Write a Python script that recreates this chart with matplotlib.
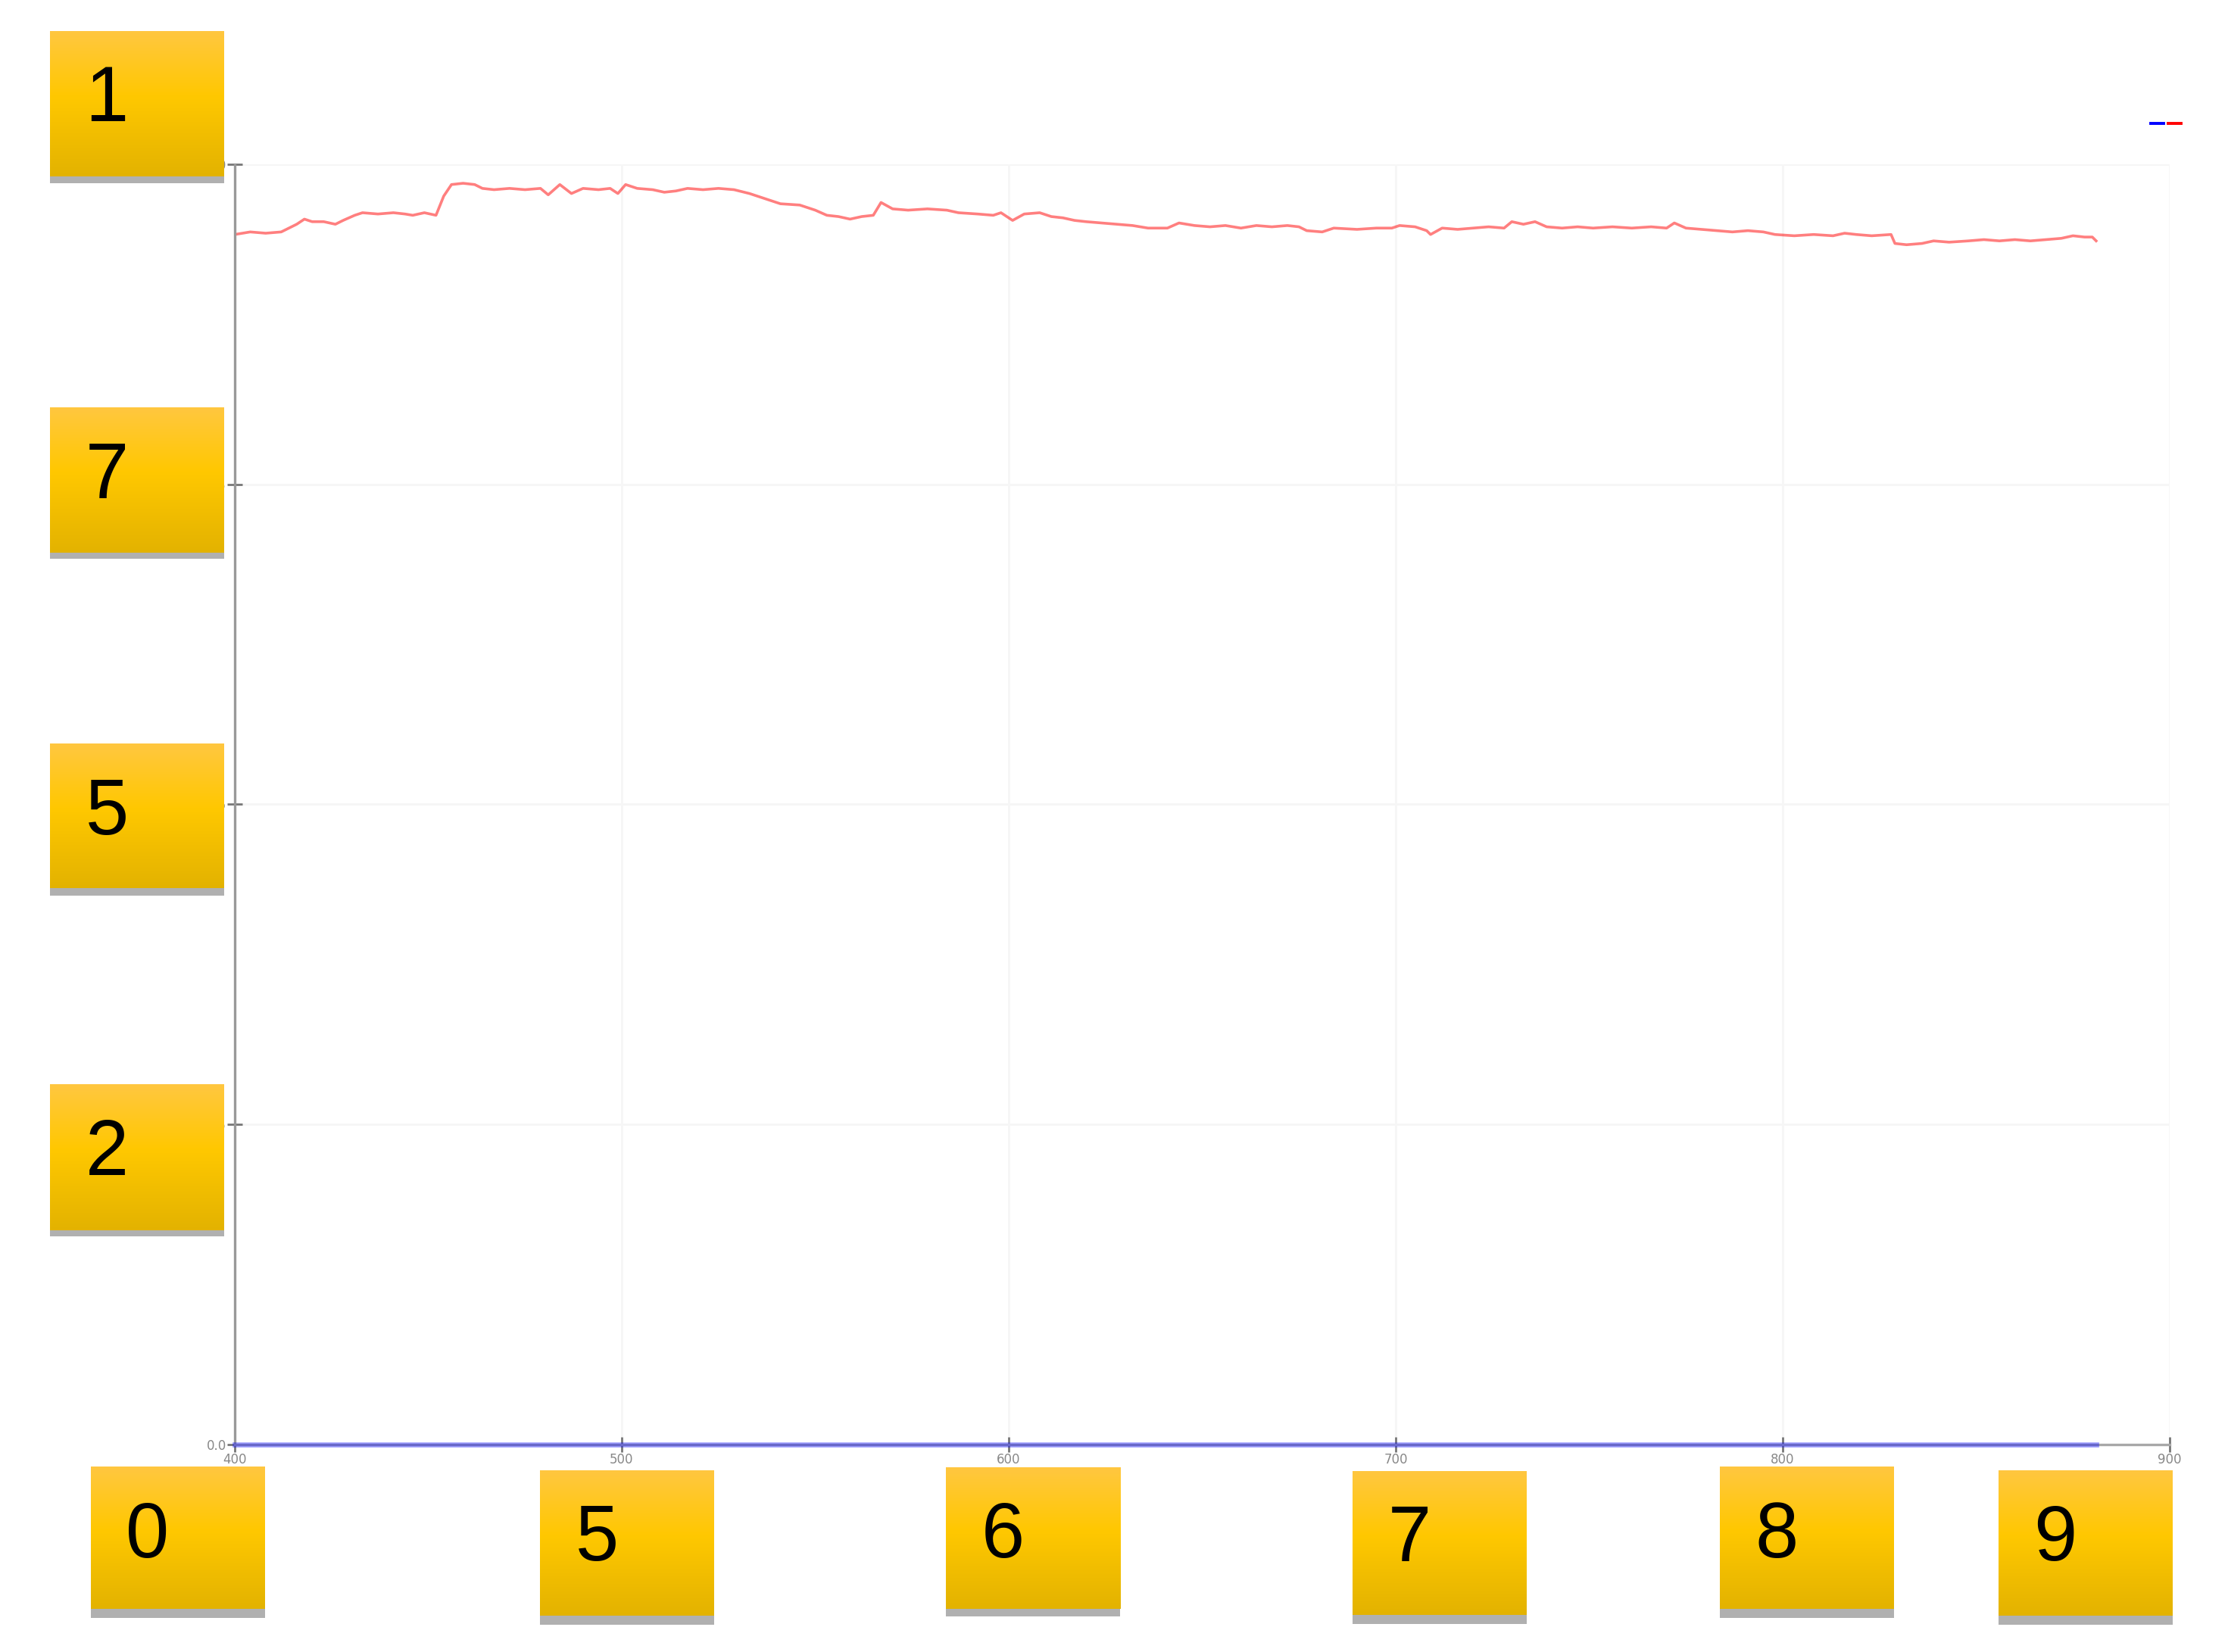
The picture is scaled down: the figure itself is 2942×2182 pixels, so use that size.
import numpy as np
import matplotlib.pyplot as plt
from matplotlib.patches import Rectangle

# --- data ---
wavelength = [400, 404, 408, 412, 414, 416, 418, 420, 423, 426, 428, 431, 433, 437, 441,
              444, 446, 449, 452, 454, 456, 459, 462, 464, 467, 471, 475, 479, 481, 484,
              487, 490, 494, 497, 499, 501, 504, 508, 511, 514, 517, 521, 525, 529, 533,
              537, 541, 546, 550, 553, 556, 559, 562, 565, 567, 570, 574, 579, 584, 587,
              592, 596, 598, 601, 604, 608, 611, 614, 617, 620, 624, 628, 632, 636, 641,
              644, 648, 652, 656, 660, 664, 668, 672, 675, 677, 681, 684, 690, 695, 699,
              701, 705, 708, 709, 712, 716, 720, 724, 728, 730, 733, 736, 739, 743, 747,
              751, 756, 761, 766, 770, 772, 775, 779, 783, 787, 791, 795, 798, 803, 808,
              813, 816, 819, 823, 828, 829, 832, 836, 839, 843, 848, 852, 856, 860, 864,
              868, 872, 875, 878, 880, 881]
red_values = [0.945, 0.947, 0.946, 0.947, 0.950, 0.953, 0.957, 0.955, 0.955, 0.953, 0.956, 0.960, 0.962, 0.961, 0.962,
              0.961, 0.960, 0.962, 0.960, 0.975, 0.984, 0.985, 0.984, 0.981, 0.980, 0.981, 0.980, 0.981, 0.976, 0.984,
              0.977, 0.981, 0.980, 0.981, 0.977, 0.984, 0.981, 0.980, 0.978, 0.979, 0.981, 0.980, 0.981, 0.980, 0.977,
              0.973, 0.969, 0.968, 0.964, 0.960, 0.959, 0.957, 0.959, 0.960, 0.970, 0.965, 0.964, 0.965, 0.964, 0.962,
              0.961, 0.960, 0.962, 0.956, 0.961, 0.962, 0.959, 0.958, 0.956, 0.955, 0.954, 0.953, 0.952, 0.950, 0.950,
              0.954, 0.952, 0.951, 0.952, 0.950, 0.952, 0.951, 0.952, 0.951, 0.948, 0.947, 0.950, 0.949, 0.950, 0.950,
              0.952, 0.951, 0.948, 0.945, 0.950, 0.949, 0.950, 0.951, 0.950, 0.955, 0.953, 0.955, 0.951, 0.950, 0.951,
              0.950, 0.951, 0.950, 0.951, 0.950, 0.954, 0.950, 0.949, 0.948, 0.947, 0.948, 0.947, 0.945, 0.944, 0.945,
              0.944, 0.946, 0.945, 0.944, 0.945, 0.938, 0.937, 0.938, 0.940, 0.939, 0.940, 0.941, 0.940, 0.941, 0.940,
              0.941, 0.942, 0.944, 0.943, 0.943, 0.940]
blue_wavelength = [400, 881]
blue_values = [0.0, 0.0]

x_ticks = [400, 500, 600, 700, 800, 900]
x_tick_labels = ["400", "500", "600", "700", "800", "900"]
y_ticks = [0.0, 0.25, 0.5, 0.75, 1.0]
y_tick_labels = ["0.0", "0.25", "0.5", "0.75", "1.0"]

# yellow cover boxes: digit, left, top, height, shadow (pixels)
box_digits = ["1", "7", "5", "2", "0", "5", "6", "7", "8", "9"]
box_left = [66, 66, 66, 66, 120, 713, 1249, 1786, 2271, 2639]
box_top = [41, 538, 982, 1432, 1937, 1942, 1938, 1943, 1937, 1942]
box_height = [192, 192, 191, 193, 188, 192, 187, 190, 188, 192]
box_shadow = [9, 8, 10, 8, 12, 12, 10, 12, 12, 12]
BOX_W = 230

W, H = 2942, 2182
fig = plt.figure(figsize=(W / 200, H / 200), dpi=200)
ax = fig.add_axes([310 / W, 1 - 1908 / H, (2865 - 310) / W, (1908 - 216.7) / H])

red_line, = ax.plot(wavelength, red_values, color="red", alpha=0.5, lw=1.3)
blue_line, = ax.plot(blue_wavelength, blue_values, color="blue", alpha=0.38, lw=2.4,
                     clip_on=False, zorder=5)

ax.set_xlim(400, 900)
ax.set_ylim(0, 1)
ax.set_xticks(x_ticks)
ax.set_xticklabels(x_tick_labels)
ax.set_yticks(y_ticks)
ax.set_yticklabels(y_tick_labels)
ax.tick_params(direction="inout", length=7, width=1, color="#777777",
               labelsize=6, labelcolor="#888888", pad=0.5)
ax.grid(True, color="#f6f6f6", lw=1.0)
for s in ["top", "right"]:
    ax.spines[s].set_visible(False)
ax.spines["left"].set_color("#999999")
ax.spines["left"].set_linewidth(1.2)
ax.spines["bottom"].set_color("#a8a8a8")
ax.spines["bottom"].set_linewidth(1.2)

leg = fig.legend([blue_line, red_line], ["", ""], ncol=2, loc="center",
                 bbox_to_anchor=(2860 / W, 1 - 164 / H), frameon=False,
                 handlelength=1.2, handletextpad=0, columnspacing=0.5,
                 fontsize=5, borderpad=0)
for h in leg.get_lines():
    h.set_alpha(1)
    h.set_linewidth(1.4)

# gradient for the yellow boxes
top_c = np.array([1.0, 0.78, 0.25])
mid_c = np.array([1.0, 0.784, 0.0])
bot_c = np.array([0.89, 0.70, 0.0])
t = np.linspace(0, 1, 100)[:, None]
grad = np.where(t < 0.45, top_c + (mid_c - top_c) * (t / 0.45),
                mid_c + (bot_c - mid_c) * ((t - 0.45) / 0.55))
grad = grad[:, None, :]

for d, l, tp, h, sh in zip(box_digits, box_left, box_top, box_height, box_shadow):
    bx = fig.add_axes([l / W, 1 - (tp + h + sh) / H, BOX_W / W, (h + sh) / H])
    bx.set_xlim(0, 1)
    bx.set_ylim(0, h + sh)
    bx.imshow(grad, extent=(0, 1, sh, h + sh), aspect="auto")
    bx.add_patch(Rectangle((0, 0), 1, sh, color="#b0b0b0", lw=0))
    bx.text(75 / BOX_W, sh + h - 93, d, ha="center", va="center",
            fontsize=37, family="Liberation Sans", color="black")
    bx.axis("off")

fig.savefig("out.png", dpi=200)
